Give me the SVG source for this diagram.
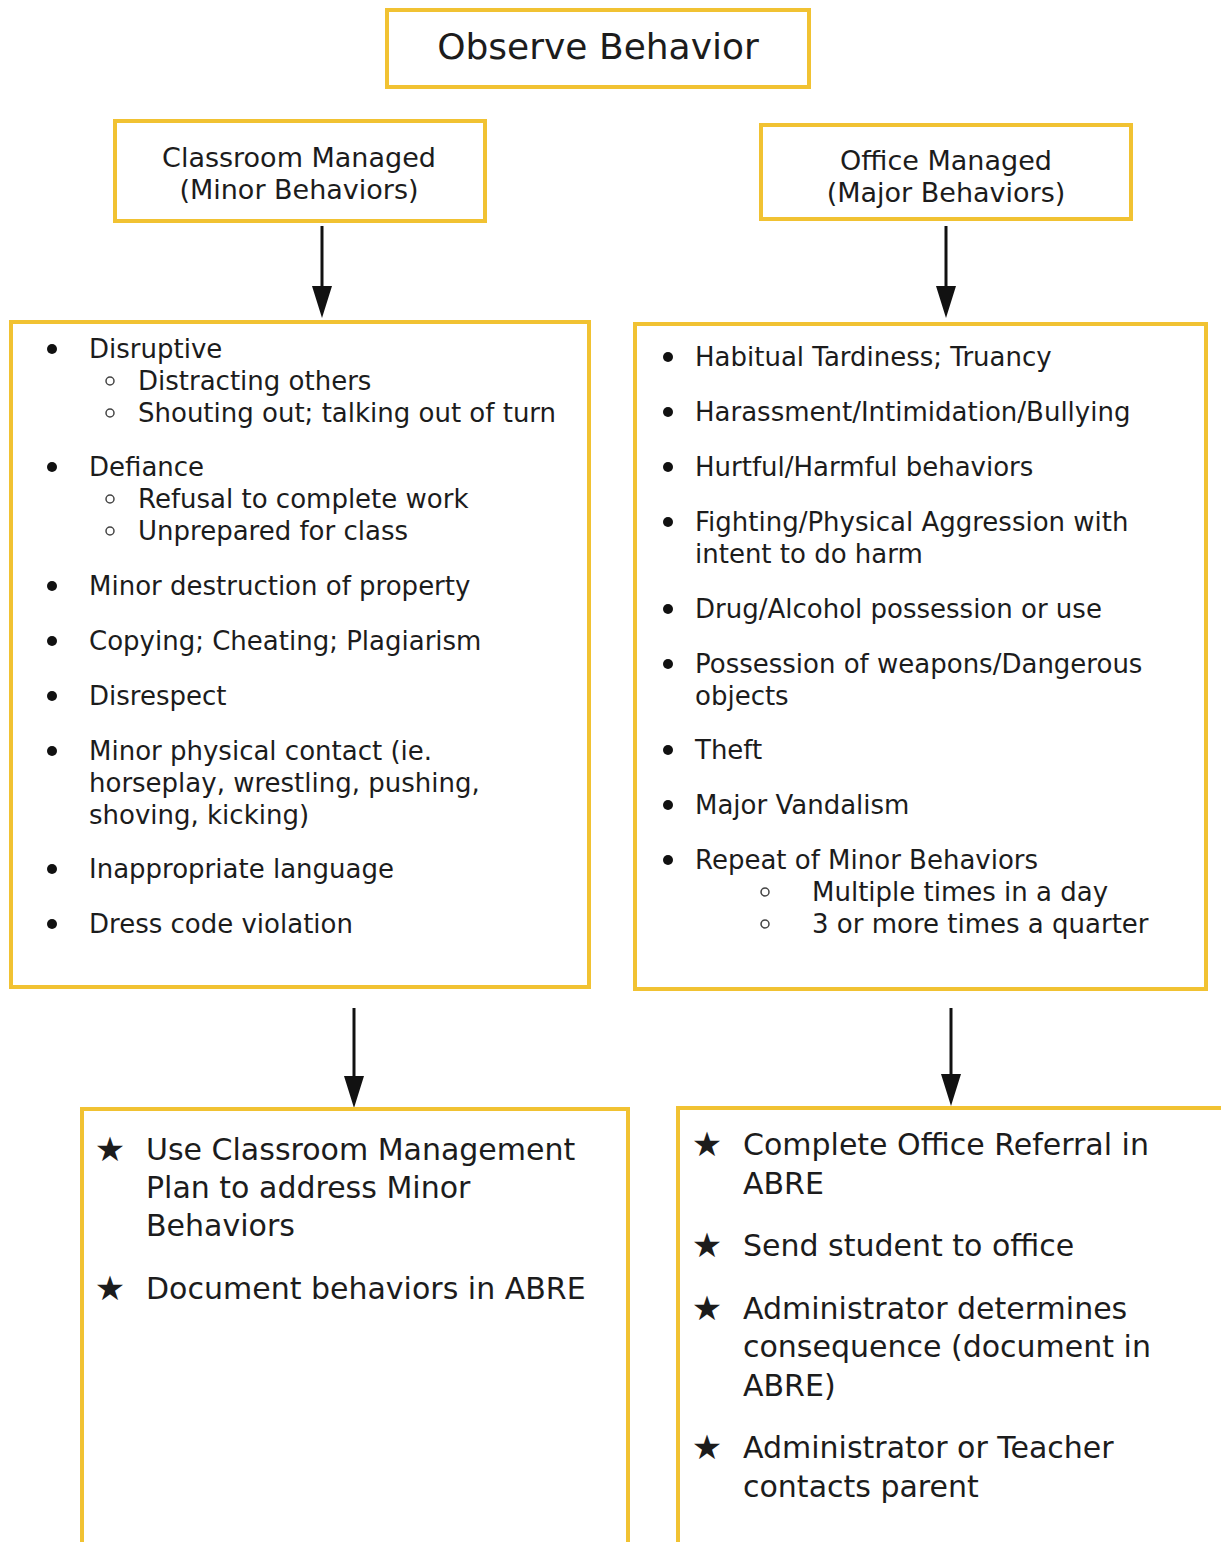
<svg xmlns="http://www.w3.org/2000/svg" width="1221" height="1542" viewBox="0 0 1221 1542">
<style>
.box{fill:#fff;stroke:#f1c232;stroke-width:4}
.t{font-family:"DejaVu Sans",sans-serif;fill:#1c1c1c}
.title{font-size:36px}
.hdr{font-size:27px;text-anchor:middle}
.li{font-size:26px}
.big{font-size:30px}
.star{font-size:34px;text-anchor:middle}
.dot{fill:#111}
.ring{fill:none;stroke:#444;stroke-width:1.5}
.conn{stroke:#111;stroke-width:3;fill:none}
</style>
<defs>
<marker id="ah" markerUnits="userSpaceOnUse" markerWidth="32" markerHeight="20" refX="22" refY="10" orient="auto">
<path d="M0,0 L32,10 L0,20 z" fill="#111"/>
</marker>
</defs>
<rect width="1221" height="1542" fill="#fff"/>

<g id="connectors">
<line class="conn" x1="322" y1="226" x2="322" y2="308" marker-end="url(#ah)"/>
<line class="conn" x1="946" y1="226" x2="946" y2="308" marker-end="url(#ah)"/>
<line class="conn" x1="354" y1="1008" x2="354" y2="1098" marker-end="url(#ah)"/>
<line class="conn" x1="951" y1="1008" x2="951" y2="1096" marker-end="url(#ah)"/>
</g>

<g id="observe">
<rect class="box" x="387" y="10" width="422" height="77"/>
<text class="t title" x="598" y="59" text-anchor="middle">Observe Behavior</text>
</g>

<g id="classroom">
<rect class="box" x="115" y="121" width="370" height="100"/>
<text class="t hdr" x="299" y="167">Classroom Managed</text>
<text class="t hdr" x="299" y="199">(Minor Behaviors)</text>
</g>

<g id="office">
<rect class="box" x="761" y="125" width="370" height="94"/>
<text class="t hdr" x="946" y="170">Office Managed</text>
<text class="t hdr" x="946" y="202">(Major Behaviors)</text>
</g>

<g id="minor-list">
<rect class="box" x="11" y="322" width="578" height="665"/>
<g class="dot">
<circle cx="52" cy="349" r="5"/>
<circle cx="52" cy="467" r="5"/>
<circle cx="52" cy="586" r="5"/>
<circle cx="52" cy="641" r="5"/>
<circle cx="52" cy="696" r="5"/>
<circle cx="52" cy="751" r="5"/>
<circle cx="52" cy="869" r="5"/>
<circle cx="52" cy="924" r="5"/>
</g>
<g>
<circle class="ring" cx="110" cy="381" r="4"/>
<circle class="ring" cx="110" cy="413" r="4"/>
<circle class="ring" cx="110" cy="499" r="4"/>
<circle class="ring" cx="110" cy="531" r="4"/>
</g>
<text class="t li" x="89" y="358">Disruptive</text>
<text class="t li" x="138" y="390">Distracting others</text>
<text class="t li" x="138" y="422">Shouting out; talking out of turn</text>
<text class="t li" x="89" y="476">Defiance</text>
<text class="t li" x="138" y="508">Refusal to complete work</text>
<text class="t li" x="138" y="540">Unprepared for class</text>
<text class="t li" x="89" y="595">Minor destruction of property</text>
<text class="t li" x="89" y="650">Copying; Cheating; Plagiarism</text>
<text class="t li" x="89" y="705">Disrespect</text>
<text class="t li" x="89" y="760">Minor physical contact (ie.</text>
<text class="t li" x="89" y="792">horseplay, wrestling, pushing,</text>
<text class="t li" x="89" y="824">shoving, kicking)</text>
<text class="t li" x="89" y="878">Inappropriate language</text>
<text class="t li" x="89" y="933">Dress code violation</text>
</g>

<g id="major-list">
<rect class="box" x="635" y="324" width="571" height="665"/>
<g class="dot">
<circle cx="668" cy="357" r="5"/>
<circle cx="668" cy="412" r="5"/>
<circle cx="668" cy="467" r="5"/>
<circle cx="668" cy="522" r="5"/>
<circle cx="668" cy="609" r="5"/>
<circle cx="668" cy="664" r="5"/>
<circle cx="668" cy="750" r="5"/>
<circle cx="668" cy="805" r="5"/>
<circle cx="668" cy="860" r="5"/>
</g>
<g>
<circle class="ring" cx="765" cy="892" r="4"/>
<circle class="ring" cx="765" cy="924" r="4"/>
</g>
<text class="t li" x="695" y="366">Habitual Tardiness; Truancy</text>
<text class="t li" x="695" y="421">Harassment/Intimidation/Bullying</text>
<text class="t li" x="695" y="476">Hurtful/Harmful behaviors</text>
<text class="t li" x="695" y="531">Fighting/Physical Aggression with</text>
<text class="t li" x="695" y="563">intent to do harm</text>
<text class="t li" x="695" y="618">Drug/Alcohol possession or use</text>
<text class="t li" x="695" y="673">Possession of weapons/Dangerous</text>
<text class="t li" x="695" y="705">objects</text>
<text class="t li" x="695" y="759">Theft</text>
<text class="t li" x="695" y="814">Major Vandalism</text>
<text class="t li" x="695" y="869">Repeat of Minor Behaviors</text>
<text class="t li" x="812" y="901">Multiple times in a day</text>
<text class="t li" x="812" y="933">3 or more times a quarter</text>
</g>

<g id="classroom-actions">
<rect class="box" x="82" y="1109" width="546" height="460"/>
<text class="t star" x="110" y="1161">★</text>
<text class="t star" x="110" y="1300">★</text>
<text class="t big" x="146" y="1160">Use Classroom Management</text>
<text class="t big" x="146" y="1198">Plan to address Minor</text>
<text class="t big" x="146" y="1236">Behaviors</text>
<text class="t big" x="146" y="1299">Document behaviors in ABRE</text>
</g>

<g id="office-actions">
<rect class="box" x="678" y="1108" width="570" height="460"/>
<text class="t star" x="707" y="1156">★</text>
<text class="t star" x="707" y="1257">★</text>
<text class="t star" x="707" y="1320">★</text>
<text class="t star" x="707" y="1459">★</text>
<text class="t big" x="743" y="1155">Complete Office Referral in</text>
<text class="t big" x="743" y="1194">ABRE</text>
<text class="t big" x="743" y="1256">Send student to office</text>
<text class="t big" x="743" y="1319">Administrator determines</text>
<text class="t big" x="743" y="1357">consequence (document in</text>
<text class="t big" x="743" y="1396">ABRE)</text>
<text class="t big" x="743" y="1458">Administrator or Teacher</text>
<text class="t big" x="743" y="1497">contacts parent</text>
</g>
</svg>
